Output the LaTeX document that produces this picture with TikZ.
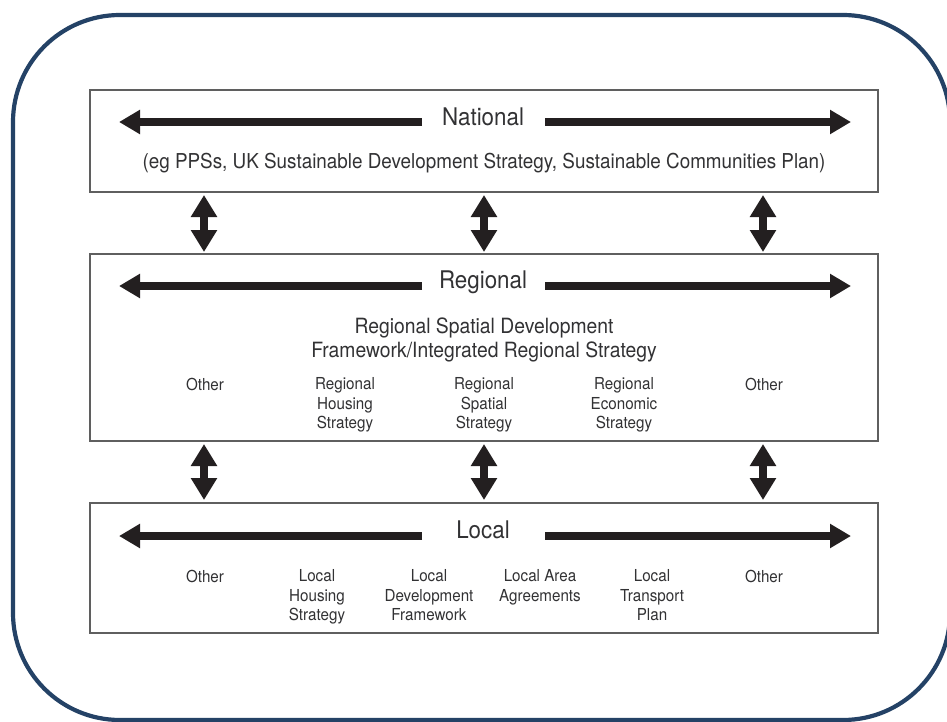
\documentclass[tikz,border=0pt]{standalone}
\usepackage{fontspec}
\setmainfont[FakeStretch=0.92]{TeX Gyre Heros}
\usetikzlibrary{arrows.meta}
\definecolor{framecol}{RGB}{36,66,102}
\definecolor{ink}{RGB}{35,31,32}
\definecolor{txt}{RGB}{50,50,52}
\definecolor{boxline}{RGB}{95,95,95}
\begin{document}
\begin{tikzpicture}[x=1pt,y=-1pt,
  levelbox/.style={draw=boxline, line width=1.1pt, inner sep=0pt, outer sep=0pt},
  headlab/.style={font=\fontsize{24.3}{28}\selectfont, text=txt, anchor=base, inner sep=0pt},
  midlab/.style={font=\fontsize{21}{24}\selectfont, text=txt, align=center, inner sep=0pt},
  smalllab/.style={font=\fontsize{16.5}{19.5}\selectfont, text=txt, align=center, anchor=north, inner sep=0pt},
  harrow/.style={draw=ink, line width=7.5pt, -{Triangle[width=23pt,length=21pt]}},
  varrow/.style={draw=ink, line width=8pt, {Triangle[width=25pt,length=22pt]}-{Triangle[width=25pt,length=22pt]}}
]
\useasboundingbox (0,0) rectangle (947,722);
\clip (0,0) rectangle (947,722);
\fill[white] (0,0) rectangle (947,722);
% outer frame
\draw[framecol, line width=4.2pt, rounded corners=107pt] (13,15) rectangle (950,720);

% level boxes
\node[levelbox, minimum width=788pt, minimum height=102pt] (nat) at (484,141) {};
\node[levelbox, minimum width=788pt, minimum height=187pt] (reg) at (484,347.5) {};
\node[levelbox, minimum width=788pt, minimum height=130pt] (loc) at (484,568) {};

% column coordinates
\coordinate (c1) at (204,0);
\coordinate (c2) at (484,0);
\coordinate (c3) at (763,0);

% National
\node[headlab] (natlab) at (483,126) {National};
\coordinate (natL) at (119,122);
\coordinate (natR) at (851,122);
\draw[harrow] ([xshift=-61pt]natlab.center |- natL) -- (natL);
\draw[harrow] ([xshift=62pt]natlab.center |- natR) -- (natR);
\node[font=\fontsize{20.5}{24}\selectfont, text=txt, anchor=base, inner sep=0pt] (natsub) at (484,168)
  {(eg PPSs, UK Sustainable Development Strategy, Sustainable Communities Plan)};

% Regional
\node[headlab] (reglab) at (483,288) {Regional};
\coordinate (regL) at (119,286);
\coordinate (regR) at (851,286);
\draw[harrow] ([xshift=-61pt]reglab.center |- regL) -- (regL);
\draw[harrow] ([xshift=62pt]reglab.center |- regR) -- (regR);
\node[midlab, anchor=north] (rsds) at (484,317.5)
  {Regional Spatial Development\\Framework/Integrated Regional Strategy};
\node[smalllab] (rother1) at (205,377.5) {Other};
\node[smalllab] (rhous) at (345,377.5) {Regional\\Housing\\Strategy};
\node[smalllab] (rspat) at (484,377.5) {Regional\\Spatial\\Strategy};
\node[smalllab] (recon) at (624,377.5) {Regional\\Economic\\Strategy};
\node[smalllab] (rother2) at (764,377.5) {Other};

% Local
\node[headlab] (loclab) at (483,538) {Local};
\coordinate (locL) at (119,536);
\coordinate (locR) at (851,536);
\draw[harrow] ([xshift=-61pt]loclab.center |- locL) -- (locL);
\draw[harrow] ([xshift=62pt]loclab.center |- locR) -- (locR);
\node[smalllab] (lother1) at (205,569.5) {Other};
\node[smalllab] (lhous) at (317,569.5) {Local\\Housing\\Strategy};
\node[smalllab] (ldf) at (429,569.5) {Local\\Development\\Framework};
\node[smalllab] (llaa) at (540,569.5) {Local Area\\Agreements};
\node[smalllab] (ltp) at (652,569.5) {Local\\Transport\\Plan};
\node[smalllab] (lother2) at (764,569.5) {Other};

% vertical double arrows
\foreach \c in {c1,c2,c3}{
  \draw[varrow, shorten <=3pt, shorten >=2pt] (nat.south -| \c) -- (reg.north -| \c);
  \draw[varrow, shorten <=3pt, shorten >=3pt] (reg.south -| \c) -- (loc.north -| \c);
}
\end{tikzpicture}
\end{document}
